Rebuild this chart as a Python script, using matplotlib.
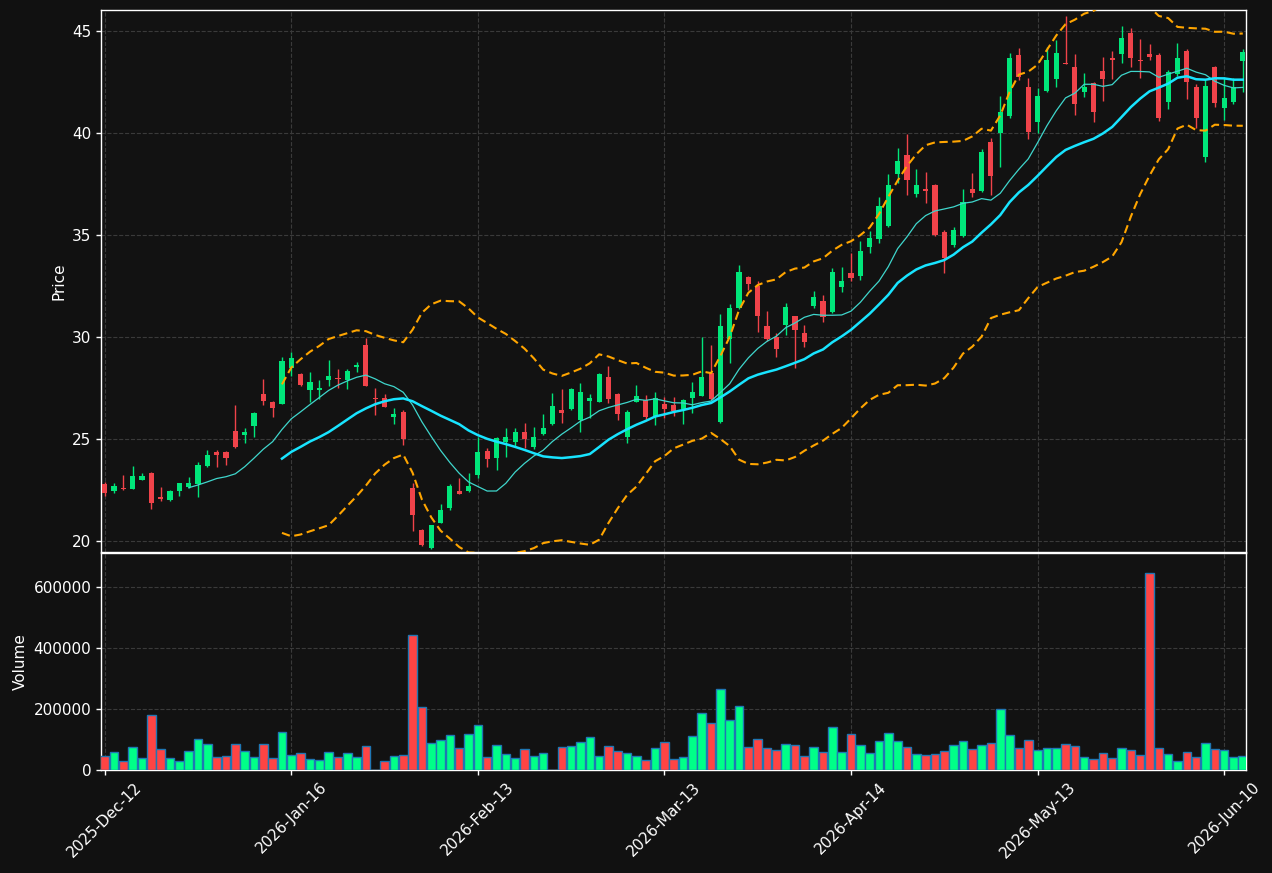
import numpy as np
import pandas as pd
import matplotlib
matplotlib.use("Agg")
from matplotlib import pyplot as plt

# daily OHLC (trading-day index 0..122)
opens = [22.79, 22.47, 22.61, 22.57, 23.00, 23.32, 22.17, 22.00, 22.45, 22.65,
         22.79, 23.68, 24.36, 24.36, 25.39, 25.20, 25.64, 27.20, 26.81, 26.73,
         28.50, 28.19, 27.42, 27.40, 27.89, 27.99, 27.89, 28.55, 29.61, 27.02,
         27.01, 26.10, 26.32, 22.60, 20.54, 19.66, 20.90, 21.63, 22.44, 22.47,
         23.24, 24.41, 24.08, 24.85, 24.87, 25.34, 24.62, 25.26, 25.75, 26.42,
         26.47, 25.93, 26.86, 26.83, 28.04, 27.20, 25.11, 26.83, 26.91, 26.11,
         26.72, 26.67, 26.47, 27.01, 27.12, 28.22, 25.85, 29.89, 31.41, 32.94,
         32.50, 30.54, 30.01, 30.59, 31.01, 30.18, 31.54, 31.76, 31.24, 32.47,
         33.14, 33.00, 34.43, 34.82, 35.46, 38.00, 38.92, 37.00, 37.25, 37.45,
         35.16, 34.51, 34.97, 37.25, 37.17, 39.56, 40.02, 40.83, 43.82, 42.25,
         40.55, 42.07, 42.64, 43.45, 43.22, 42.03, 42.44, 43.04, 43.68, 43.87,
         44.92, 43.60, 43.89, 43.82, 41.53, 42.88, 44.00, 42.24, 38.84, 43.22,
         41.24, 41.53, 43.55]
highs = [22.91, 22.83, 23.24, 23.68, 23.32, 23.38, 22.65, 22.50, 22.86, 23.12,
         23.87, 24.46, 24.46, 24.40, 26.67, 25.52, 26.30, 27.94, 26.85, 29.00,
         29.28, 28.26, 28.27, 27.89, 28.86, 28.42, 28.42, 28.76, 29.94, 27.49,
         27.20, 26.50, 26.42, 22.83, 20.60, 20.80, 21.80, 22.80, 23.07, 23.35,
         25.11, 24.54, 25.12, 25.55, 25.52, 25.77, 25.57, 26.23, 27.24, 27.44,
         27.50, 27.73, 27.20, 28.26, 28.58, 27.25, 26.44, 27.63, 27.16, 27.32,
         27.04, 27.07, 26.95, 27.78, 30.01, 29.59, 31.13, 31.60, 33.53, 33.00,
         32.76, 31.29, 30.20, 31.65, 31.05, 30.59, 32.25, 32.08, 33.40, 33.42,
         34.10, 34.72, 35.20, 36.85, 37.99, 39.25, 39.95, 38.22, 38.10, 37.50,
         35.25, 35.40, 37.24, 38.06, 39.20, 39.74, 41.81, 43.91, 44.15, 42.71,
         42.19, 44.20, 44.55, 45.74, 43.87, 42.93, 42.50, 43.74, 44.02, 45.25,
         45.17, 44.60, 44.35, 43.90, 43.10, 44.40, 44.10, 42.40, 42.60, 43.30,
         42.76, 42.70, 44.10]
lows = [22.20, 22.37, 22.50, 22.55, 23.00, 21.55, 21.95, 21.95, 22.22, 22.60,
        22.14, 23.62, 23.64, 23.74, 24.58, 24.79, 25.11, 26.65, 26.10, 26.70,
        28.10, 27.60, 26.80, 26.95, 27.60, 27.49, 27.43, 28.30, 27.58, 26.19,
        26.55, 25.72, 24.69, 20.50, 19.75, 19.60, 20.86, 21.51, 22.30, 22.40,
        23.10, 23.64, 23.50, 24.13, 24.60, 24.54, 24.50, 25.20, 25.70, 25.77,
        26.40, 25.33, 26.01, 26.80, 26.75, 25.92, 24.80, 26.80, 25.96, 25.69,
        26.01, 26.13, 25.72, 26.29, 27.10, 26.90, 25.77, 28.71, 31.35, 32.30,
        30.26, 29.80, 29.00, 30.10, 28.47, 29.52, 31.40, 30.74, 31.20, 32.22,
        32.75, 32.79, 34.10, 34.62, 35.40, 37.53, 36.96, 36.85, 36.55, 34.95,
        33.12, 34.40, 34.90, 36.85, 37.10, 36.96, 38.35, 40.72, 42.60, 39.69,
        39.98, 42.00, 42.24, 43.38, 40.88, 41.79, 40.55, 41.59, 42.66, 43.42,
        43.25, 42.68, 43.60, 40.60, 41.16, 42.80, 41.66, 40.23, 38.59, 41.26,
        40.64, 41.40, 42.03]
closes = [22.37, 22.70, 22.57, 23.19, 23.19, 21.88, 22.07, 22.45, 22.84, 22.84,
          23.73, 24.22, 24.22, 24.07, 24.61, 25.34, 26.27, 26.86, 26.53, 28.82,
          28.96, 27.65, 27.79, 27.50, 28.09, 27.94, 28.33, 28.64, 27.61, 26.96,
          26.58, 26.24, 25.01, 21.29, 19.82, 20.77, 21.50, 22.70, 22.32, 22.70,
          24.35, 24.03, 25.03, 25.08, 25.34, 25.00, 25.10, 25.54, 26.62, 26.29,
          27.45, 27.30, 27.01, 28.19, 26.96, 26.24, 26.32, 27.11, 26.09, 27.00,
          26.47, 26.37, 26.91, 27.30, 28.04, 26.98, 30.54, 31.41, 33.17, 32.61,
          31.04, 29.90, 29.41, 31.46, 30.36, 29.77, 31.95, 31.00, 33.17, 32.75,
          32.91, 34.22, 34.85, 36.42, 37.45, 38.63, 37.70, 37.45, 37.16, 35.00,
          33.89, 35.25, 36.60, 37.07, 39.09, 37.89, 41.05, 43.68, 42.73, 40.06,
          41.81, 43.58, 43.94, 43.40, 41.42, 42.24, 41.05, 42.65, 43.58, 44.66,
          43.69, 43.55, 43.73, 40.75, 42.97, 43.68, 42.51, 40.75, 42.30, 41.45,
          41.70, 42.27, 43.99]
volumes = [44900, 58000, 28500, 74400, 38300, 179500, 67900, 38300, 28500, 61300,
           100700, 84300, 41600, 44900, 84300, 61300, 41600, 84300, 38300, 123700,
           48200, 54700, 35000, 31700, 58000, 41600, 54700, 41600, 77700, 0,
           28500, 44900, 48200, 442000, 205800, 87600, 97400, 113800, 71200, 117100,
           146700, 41600, 81000, 51500, 38300, 67900, 44900, 54700, 0, 74400,
           77700, 90900, 107300, 44900, 77700, 61300, 54700, 44900, 31700, 71200,
           90900, 35000, 41600, 110600, 186000, 153000, 265000, 163000, 209000, 74400,
           100700, 71200, 64600, 84300, 81000, 44900, 74400, 58000, 140000, 58000,
           117000, 81000, 54700, 94000, 120000, 94000, 74400, 51500, 48200, 51500,
           61300, 81000, 94000, 67900, 81000, 87600, 199000, 113800, 71200, 97400,
           64600, 71200, 71200, 84300, 77700, 41600, 35000, 54700, 38300, 71200,
           64600, 48200, 646000, 71200, 51500, 28500, 58000, 41600, 87600, 67900,
           64600, 41600, 44900]
tick_labels = ['2025-Dec-12', '2026-Jan-16', '2026-Feb-13', '2026-Mar-13',
               '2026-Apr-14', '2026-May-13', '2026-Jun-10']

BG = '#111111'
UP, DOWN = '#00e67a', '#f0434a'
VOL_UP, VOL_DOWN = '#00ff88', '#ff4444'
GRID = dict(color='#3a3a3a', linestyle='--', linewidth=0.8)

df = pd.DataFrame({'open': opens, 'high': highs, 'low': lows,
                   'close': closes, 'volume': volumes})
x = np.arange(len(df))
up = df['close'] >= df['open']

ma10 = df['close'].rolling(10).mean()
ma20 = df['close'].rolling(20).mean()
std20 = df['close'].rolling(20).std(ddof=0)

fig = plt.figure(figsize=(12.72, 8.73), dpi=100, facecolor=BG)
ax = fig.add_axes([0.0794, 0.3677, 0.9002, 0.6208], facecolor='#121212')
axv = fig.add_axes([0.0794, 0.1180, 0.9002, 0.2486], facecolor='#121212', sharex=ax)

# candles
colors = np.where(up, UP, DOWN)
ax.vlines(x, df['low'], df['high'], colors=colors, linewidth=1.0, zorder=3)
body_low = np.minimum(df['open'], df['close'])
body_h = np.maximum((df['close'] - df['open']).abs(), 0.05)
ax.bar(x, body_h, bottom=body_low, width=0.55, color=colors, linewidth=0, zorder=4)

# moving averages and bollinger bands
ax.plot(x, ma10, color='#3fd6cc', linewidth=0.9, zorder=5)
ax.plot(x, ma20, color='#18e4ff', linewidth=1.8, zorder=5)
ax.plot(x, ma20 + 2 * std20, color='orange', linewidth=1.5, linestyle=(0, (4, 2.2)), zorder=5)
ax.plot(x, ma20 - 2 * std20, color='orange', linewidth=1.5, linestyle=(0, (4, 2.2)), zorder=5)

# volume
vol_colors = np.where(up, VOL_UP, VOL_DOWN)
axv.bar(x, df['volume'], width=0.92, color=vol_colors, edgecolor='#1f77b4', linewidth=1.0, zorder=3)

ax.set_xlim(-0.4, 122.35)
ax.set_ylim(19.46, 46.03)
ax.set_yticks([20, 25, 30, 35, 40, 45])
axv.set_ylim(0, max(volumes) * 1.1)
axv.set_yticks([0, 200000, 400000, 600000])
axv.ticklabel_format(axis='y', style='plain')

ticks = list(range(0, len(df), 20))
axv.set_xticks(ticks)
axv.set_xticklabels(tick_labels, rotation=45)
ax.tick_params(axis='x', labelbottom=False)

for a in (ax, axv):
    a.grid(True, **GRID)
    a.set_axisbelow(True)
    a.tick_params(colors='white', labelsize=11, length=3.5, width=1)
    for s in a.spines.values():
        s.set_color('white')
        s.set_linewidth(1.0)

ax.set_ylabel('Price', color='white', fontsize=11)
axv.set_ylabel('Volume', color='white', fontsize=11)

fig.savefig('out.png', dpi=100, facecolor=BG)
